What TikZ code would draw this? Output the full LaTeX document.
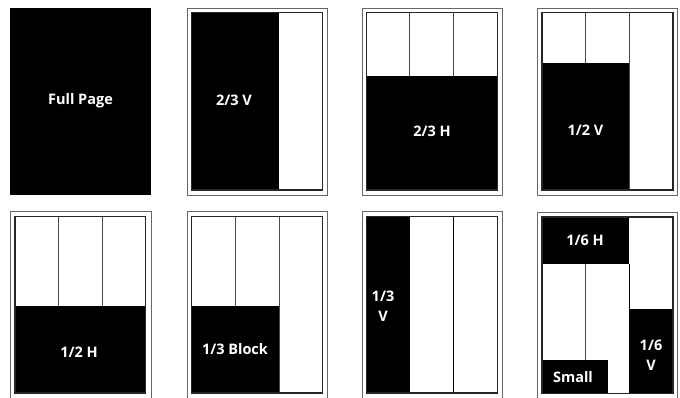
\documentclass[tikz,border=0pt]{standalone}
\usepackage{fontspec}
\setsansfont{Open Sans}
\usepackage{tikz}
\usetikzlibrary{positioning}
\tikzstyle{outerframe} = [draw=black!60, line width=1pt]
\tikzstyle{innerframe} = [draw=black!85, line width=1.3pt]
\tikzstyle{divider} = [draw=black!70, line width=0.9pt]
\tikzstyle{adblock} = [fill=black]
\tikzstyle{adlabel} = [text=white, align=center, inner sep=0pt, font=\sffamily\bfseries\fontsize{14.5}{20}\selectfont]
\begin{document}
\begin{tikzpicture}[x=1pt, y=-1pt]
    \useasboundingbox (0,0) rectangle (680,397);
    \clip (0,0) rectangle (680,397);

    % Full page
    \fill[adblock] (10,8) rectangle (151,195);
    \node[adlabel] (fullpage) at (80.5,101) {Full Page};

    % 2/3 vertical
    \draw[outerframe] (187,8) rectangle (327,195);
    \fill[adblock] (191.5,12.5) rectangle (279,190);
    \draw[innerframe] (191.5,12.5) rectangle (322.5,190);
    \node[adlabel] (twothirdsv) at (234,100) {2/3 V};

    % 2/3 horizontal
    \draw[outerframe] (362,8) rectangle (502,195);
    \fill[adblock] (366.5,75.5) rectangle (497.5,190);
    \draw[divider] (409.7,12.5) -- (409.7,75.5);
    \draw[divider] (453.3,12.5) -- (453.3,75.5);
    \draw[innerframe] (366.5,12.5) rectangle (497.5,190);
    \node[adlabel] (twothirdsh) at (432,131) {2/3 H};

    % 1/2 vertical
    \draw[outerframe] (537,8) rectangle (677,195);
    \fill[adblock] (542,63) rectangle (629.3,190);
    \draw[divider] (585.7,12.5) -- (585.7,63);
    \draw[divider] (629.3,12.5) -- (629.3,190);
    \draw[innerframe] (542,12.5) rectangle (673,190);
    \node[adlabel] (halfv) at (585.5,130) {1/2 V};

    % 1/2 horizontal
    \draw[outerframe] (10,211.5) rectangle (151,420);
    \fill[adblock] (15,306) rectangle (145.5,393);
    \draw[divider] (58.5,216.5) -- (58.5,306);
    \draw[divider] (102,216.5) -- (102,306);
    \draw[innerframe] (15,216.5) rectangle (145.5,393);
    \node[adlabel] (halfh) at (79,352) {1/2 H};

    % 1/3 block
    \draw[outerframe] (187,211.5) rectangle (327,420);
    \fill[adblock] (191.5,306) rectangle (279,393);
    \draw[divider] (235,216.5) -- (235,306);
    \draw[divider] (279,216.5) -- (279,393);
    \draw[innerframe] (191.5,216.5) rectangle (322.5,393);
    \node[adlabel] (thirdblock) at (235,349) {1/3 Block};

    % 1/3 vertical
    \draw[outerframe] (362,211.5) rectangle (502,420);
    \fill[adblock] (366.5,216.5) rectangle (409.7,393);
    \draw[divider, draw=black] (453.3,216.5) -- (453.3,393);
    \draw[innerframe] (366.5,216.5) rectangle (497.5,393);
    \node[adlabel] (thirdv) at (383,306) {1/3\\V};

    % 1/6 and small
    \draw[outerframe] (537,212) rectangle (677,420);
    \fill[adblock] (542,217) rectangle (629.3,264);
    \fill[adblock] (542,360) rectangle (607.5,393.5);
    \fill[adblock] (629.3,309) rectangle (673,393.5);
    \draw[divider] (585.7,264) -- (585.7,360);
    \draw[divider, draw=black] (629.3,264) -- (629.3,309);
    \draw[innerframe] (542,217) rectangle (673,393.5);
    \node[adlabel] (sixthh) at (585,240) {1/6 H};
    \node[adlabel] (sixthv) at (651,355) {1/6\\V};
    \node[adlabel] (small) at (573,377) {Small};
\end{tikzpicture}
\end{document}
